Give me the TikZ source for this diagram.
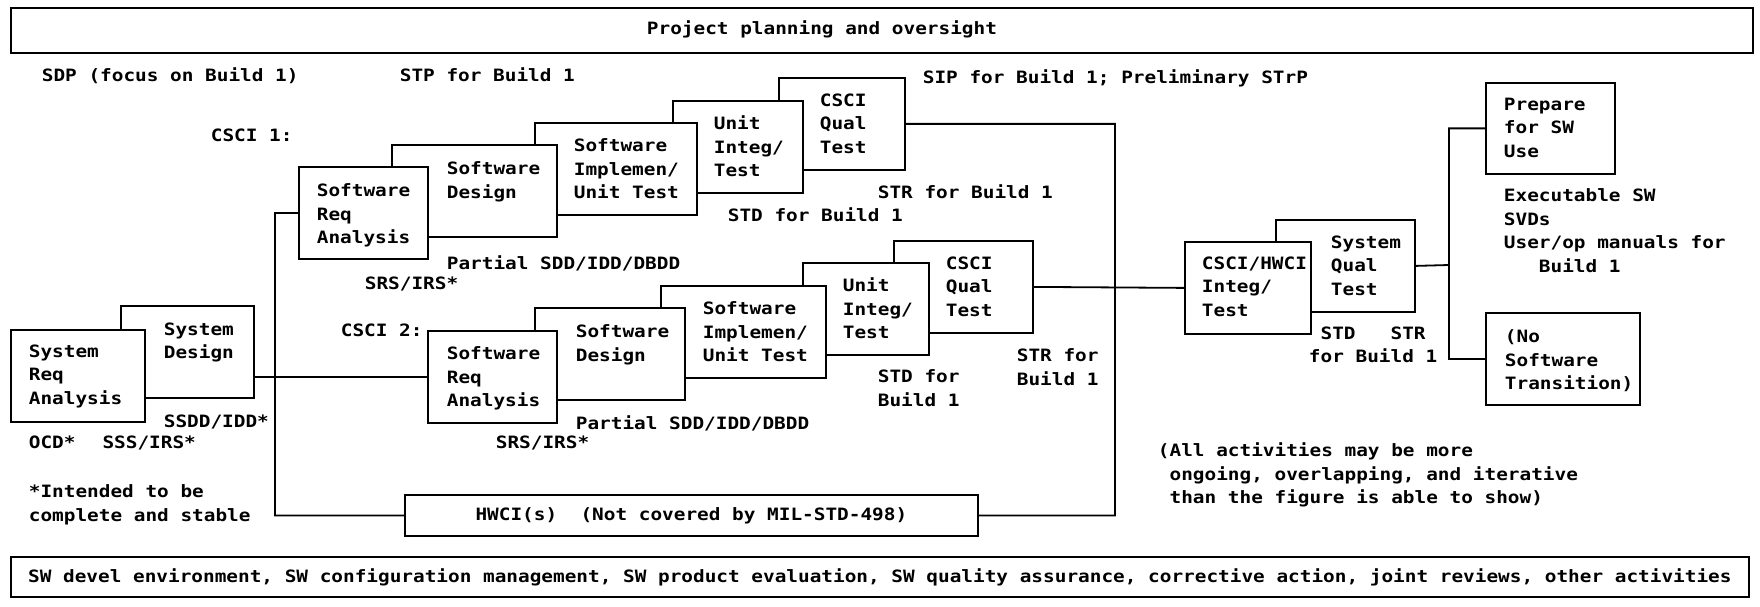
\documentclass[tikz,border=0pt]{standalone}
\usepackage{fontspec}
\newfontfamily\diafont{DejaVu Sans Mono}[FakeStretch=1.14]
\usepackage{tikz}

\begin{document}
\begin{tikzpicture}[x=1pt,y=-1pt,line width=1.8pt]
\tikzstyle{every node}=[font=\diafont\bfseries\fontsize{17}{23.4}\selectfont,inner sep=0pt];
\tikzstyle{stage}=[draw,fill=white,anchor=north west];
\tikzstyle{txt}=[anchor=north west,align=left];
\useasboundingbox (0,0) rectangle (1760,607);
\node [stage,minimum width=1742pt,minimum height=45pt](plan) at (10,7) {};
\node (plant) at (822,29) {Project planning and oversight};
\node [stage,minimum width=1738pt,minimum height=40pt](env) at (10,556) {SW devel environment, SW configuration management, SW product evaluation, SW quality assurance, corrective action, joint reviews, other activities};
\node [stage,minimum width=573pt,minimum height=41pt](hwci) at (404,494) {HWCI(s)\ \ (Not covered by MIL-STD-498)};
\node [stage,minimum width=126pt,minimum height=92pt](cqt1) at (778,77) {};
\node [stage,minimum width=130pt,minimum height=92pt](uit1) at (672,100) {};
\node [stage,minimum width=162pt,minimum height=92pt](siu1) at (534,122) {};
\node [stage,minimum width=165pt,minimum height=92pt](sd1) at (391,144) {};
\node [stage,minimum width=129pt,minimum height=92pt](sra1) at (298,166) {};
\node [stage,minimum width=139pt,minimum height=92pt](cqt2) at (893,240) {};
\node [stage,minimum width=126pt,minimum height=92pt](uit2) at (802,262) {};
\node [stage,minimum width=165pt,minimum height=92pt](siu2) at (660,285) {};
\node [stage,minimum width=150pt,minimum height=92pt](sd2) at (534,307) {};
\node [stage,minimum width=129pt,minimum height=92pt](sra2) at (427,330) {};
\node [stage,minimum width=133pt,minimum height=92pt](sysdes) at (120,305) {};
\node [stage,minimum width=134pt,minimum height=92pt](sysreq) at (10,329) {};
\node [stage,minimum width=139pt,minimum height=92pt](sysqt) at (1275,219) {};
\node [stage,minimum width=126pt,minimum height=92pt](integ) at (1184,241) {};
\node [stage,minimum width=129pt,minimum height=91pt](prep) at (1485,82) {};
\node [stage,minimum width=154pt,minimum height=92pt](nosw) at (1485,312) {};
\node [txt](cqt1t) at (819,93) {CSCI\\Qual\\Test};
\node [txt](uit1t) at (713,115) {Unit\\Integ/\\Test};
\node [txt](siu1t) at (573,138) {Software\\Implemen/\\Unit Test};
\node [txt](sd1t) at (446,161) {Software\\Design};
\node [txt](sra1t) at (316,183) {Software\\Req\\Analysis};
\node [txt](cqt2t) at (945,256) {CSCI\\Qual\\Test};
\node [txt](uit2t) at (842,277) {Unit\\Integ/\\Test};
\node [txt](siu2t) at (702,301) {Software\\Implemen/\\Unit Test};
\node [txt](sd2t) at (575,324) {Software\\Design};
\node [txt](sra2t) at (446,346) {Software\\Req\\Analysis};
\node [txt](sysdest) at (163,322) {System\\Design};
\node [txt](sysreqt) at (28,344) {System\\Req\\Analysis};
\node [txt](sysqtt) at (1330,235) {System\\Qual\\Test};
\node [txt](integt) at (1201,256) {CSCI/HWCI\\Integ/\\Test};
\node [txt](prept) at (1503,97) {Prepare\\for SW\\Use};
\node [txt](noswt) at (1504,329) {(No\\Software\\Transition)};
\node [txt](sdp) at (41,67) {SDP (focus on Build 1)};
\node [txt](stp) at (399,67) {STP for Build 1};
\node [txt](sip) at (922,69) {SIP for Build 1; Preliminary STrP};
\node [txt](csci1) at (210,128) {CSCI 1:};
\node [txt](csci2) at (340,323) {CSCI 2:};
\node [txt](part1) at (446,255) {Partial SDD/IDD/DBDD};
\node [txt](srs1) at (364,276) {SRS/IRS*};
\node [txt](std1) at (727,207) {STD for Build 1};
\node [txt](str1) at (877,184) {STR for Build 1};
\node [txt](part2) at (575,415) {Partial SDD/IDD/DBDD};
\node [txt](srs2) at (495,435) {SRS/IRS*};
\node [txt](std2) at (877,369) {STD for\\Build 1};
\node [txt](str2) at (1016,348) {STR for\\Build 1};
\node [txt](ssdd) at (163,414) {SSDD/IDD*};
\node [txt](ocd) at (28,435) {OCD*\hspace{27pt}SSS/IRS*};
\node [txt](note) at (28,484) {*Intended to be\\complete and stable};
\node [txt](stdstr) at (1308,326) {\ STD\ \ \ STR\\for Build 1};
\node [txt](exe) at (1503,188) {Executable SW\\SVDs\\User/op manuals for\\\ \ \ Build 1};
\node [txt](allact) at (1157,442) {(All activities may be more\\\ ongoing, overlapping, and iterative\\\ than the figure is able to show)};
\coordinate (lbus) at (275,376);
\coordinate (rbus) at (1115,287);
\coordinate (tbus) at (1449,265);
\draw (sra1.west) -| (lbus) |- (hwci.west)
      (sysdes.east |- sra2.west) -- (sra2.west)
      (cqt1.east) -| (rbus) |- (hwci.east)
      (cqt2.east) -- (integ.west)
      (sysqt.east) -- (tbus)
      (prep.west) -| (tbus) |- (nosw.west);
\end{tikzpicture}
\end{document}
